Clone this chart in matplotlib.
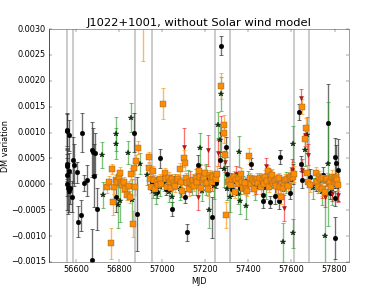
import numpy as np
import matplotlib
matplotlib.use('Agg')
import matplotlib.pyplot as plt

# solar conjunction windows (MJD)
sw_lines = [56557, 56588, 56876, 56953, 57244, 57317, 57610, 57681]

# black circles
k_mjd = [56557, 56561, 56566, 56557, 56561, 56566, 56561, 56558, 56563, 56569, 56572, 56583,
         56588, 56591, 56605, 56612, 56623, 56629, 56637, 56653, 56673, 56680, 56687, 56684,
         56673, 56699, 56784, 56871, 56883, 56989, 57044, 57115, 57106, 57167, 57233, 57267,
         57275, 57295, 57303, 57326, 57414, 57468, 57499, 57524, 57546, 57541, 57608, 57636,
         57651, 57643, 57770, 57801, 57804, 57806, 57814, 57801, 57747, 57778, 57685, 57713,
         57594, 57160, 57210, 57090, 57020, 56975, 56955, 57195, 57250, 57470, 57360, 57560]
k_dm = [0.00103, 0.00105, 0.00095, 0.00040, 0.00036, 0.00025, 0.00018, 0.0, -0.00008, -0.00013,
        -0.00008, -0.00024, 0.00047, 0.00037, 0.00023, -0.00072, -0.00060, 0.00100, 0.00003, 0.00008,
        0.00067, 0.00063, 0.00060, 0.00017, -0.00147, -0.00048, -0.00024, 0.00100, -0.00057, 0.00050,
        -0.00048, -0.00093, -0.00025, 0.00037, -0.00064, 0.00047, 0.00268, 0.00072, 0.00020, -0.00010,
        0.00040, -0.00033, -0.00034, -0.00023, 0.00053, -0.00033, 0.00020, 0.00140, 0.00008, 0.00040,
        0.00118, -0.00104, 0.00053, 0.00041, 0.00027, -0.00027, 0.00018, -0.00016, 0.00015, 0.0,
        -0.00017, 0.00010, 0.00002, -0.00012, -0.00010, -0.00015, 0.00005, 0.00008, 0.00002, -0.00020,
        -0.00008, 0.00000]
k_err = [0.00035, 0.00030, 0.00030, 0.00030, 0.00030, 0.00035, 0.00040, 0.00050, 0.00050, 0.00040,
         0.00030, 0.00030, 0.00045, 0.00040, 0.00020, 0.00030, 0.00030, 0.00037, 0.00015, 0.00030,
         0.00053, 0.00045, 0.00040, 0.00060, 0.00060, 0.00040, 0.00030, 0.00037, 0.00072, 0.00018,
         0.00013, 0.00017, 0.00012, 0.00020, 0.00040, 0.00015, 0.00019, 0.00020, 0.00015, 0.00012,
         0.00010, 0.00012, 0.00012, 0.00015, 0.00014, 0.00015, 0.00020, 0.00015, 0.00015, 0.00015,
         0.00075, 0.00040, 0.00037, 0.00035, 0.00060, 0.00015, 0.00015, 0.00012, 0.00015, 0.00012,
         0.00012, 0.00010, 0.00010, 0.00012, 0.00010, 0.00012, 0.00010, 0.00012, 0.00010, 0.00012,
         0.00010, 0.00012]

# green stars
g_mjd = [56719, 56727, 56787, 56784, 56795, 56804, 56841, 56854, 56862, 56899, 56931, 56973,
         57046, 57174, 57217, 57259, 57275, 57267, 57314, 57357, 57363, 57388, 57561, 57608,
         57608, 57673, 57662, 57755, 57770, 56960, 56990, 57010, 57030, 57060, 57085, 57120,
         57140, 57155, 57185, 57205, 57240, 57285, 57300, 57330, 57350, 57375, 57400, 57430,
         57450, 57480, 57505, 57530, 57575, 57600, 57700, 57725, 57740, 57790, 57810]
g_dm = [0.00057, -0.00020, 0.00098, 0.00078, -0.00040, -0.00033, 0.00061, 0.00129, -0.00030, 0.00040,
        0.00018, -0.00019, -0.00024, 0.00070, -0.00050, 0.00115, 0.00175, 0.00085, -0.00024, 0.00063,
        -0.00033, -0.00042, -0.00112, 0.00078, -0.00095, 0.00095, 0.00066, -0.00100, 0.00040, -0.00012,
        -0.00005, 0.00002, -0.00015, 0.00005, -0.00010, 0.00008, -0.00006, 0.00004, -0.00012, 0.00010,
        -0.00003, 0.00030, -0.00010, 0.00005, -0.00018, 0.00002, 0.00008, -0.00010, 0.00006, -0.00008,
        0.00010, -0.00005, 0.00003, 0.00008, -0.00008, 0.00002, -0.00015, -0.00010, -0.00005]
g_err = [0.00025, 0.00025, 0.00033, 0.00030, 0.00045, 0.00040, 0.00022, 0.00028, 0.00040, 0.00020,
         0.00020, 0.00020, 0.00022, 0.00030, 0.00035, 0.00025, 0.00033, 0.00030, 0.00030, 0.00030,
         0.00025, 0.00025, 0.00038, 0.00035, 0.00028, 0.00035, 0.00030, 0.00078, 0.00120, 0.00015,
         0.00018, 0.00015, 0.00020, 0.00015, 0.00020, 0.00020, 0.00015, 0.00025, 0.00020, 0.00030,
         0.00025, 0.00035, 0.00020, 0.00015, 0.00020, 0.00015, 0.00018, 0.00020, 0.00015, 0.00020,
         0.00018, 0.00020, 0.00020, 0.00025, 0.00020, 0.00018, 0.00025, 0.00030, 0.00025]

# red triangles
r_mjd = [57101, 57167, 57215, 57272, 57259, 57290, 57175, 57345, 57484, 57566, 57646, 57664,
         57679, 57651, 57755, 57818, 57437, 57602, 57130, 57195, 57230, 57320, 57505, 57540,
         57740, 57790]
r_dm = [0.00073, -0.00024, 0.00066, 0.00097, 0.00060, 0.00044, 0.00018, 0.00020, 0.00036, -0.00046,
        0.00166, 0.00095, 0.00057, 0.00028, -0.00024, -0.00020, -0.00004, 0.00028, 0.00005, 0.00012,
        0.00003, 0.00010, 0.00006, -0.00005, -0.00012, -0.00018]
r_err = [0.00035, 0.00025, 0.00030, 0.00035, 0.00025, 0.00020, 0.00020, 0.00015, 0.00015, 0.00025,
         0.00018, 0.00020, 0.00020, 0.00020, 0.00020, 0.00015, 0.00015, 0.00020, 0.00020, 0.00015,
         0.00015, 0.00012, 0.00012, 0.00015, 0.00015, 0.00015]

# orange squares
o_mjd = [56744, 56753, 56761, 56767, 56773, 56779, 56785, 56790, 56798, 56803, 56810, 56815,
         56821, 56830, 56838, 56846, 56852, 56858, 56865, 56868, 56872, 56880, 56888, 56911,
         56937, 56940, 56945, 56950, 56959, 56962, 56968, 56975, 56982, 56990, 56996, 57006,
         57012, 57018, 57024, 57030, 57036, 57042, 57048, 57055, 57061, 57067, 57073, 57083,
         57088, 57094, 57101, 57104, 57110, 57117, 57124, 57130, 57137, 57143, 57150, 57156,
         57162, 57170, 57176, 57182, 57188, 57195, 57200, 57207, 57213, 57220, 57226, 57232,
         57238, 57250, 57256, 57272, 57286, 57288, 57292, 57298, 57305, 57312, 57318, 57325,
         57332, 57338, 57345, 57351, 57358, 57364, 57370, 57377, 57383, 57390, 57396, 57403,
         57408, 57414, 57420, 57427, 57433, 57440, 57447, 57453, 57459, 57466, 57472, 57479,
         57485, 57491, 57497, 57504, 57510, 57516, 57522, 57529, 57535, 57541, 57547, 57553,
         57560, 57566, 57572, 57578, 57585, 57592, 57600, 57605, 57611, 57647, 57661, 57666,
         57670, 57677, 57684, 57713, 57718, 57724, 57730, 57736, 57742, 57748, 57754, 57760,
         57766, 57772, 57778, 57784, 57790, 57796, 57802, 57808, 57813, 57817]
o_dm = [-0.00006, 0.00005, -0.00114, 0.00030, -0.00035, -0.00006, 0.00008, 0.00005, 0.00015, 0.00021,
        0.00002, -0.00002, 0.00005, -0.00010, -0.00020, -0.00003, -0.00024, 0.00020, -0.00076, 0.00032,
        -0.00005, 0.00046, 0.00071, 0.00310, 0.00053, 0.00032, 0.00010, -0.00005, 0.00026, 0.00008,
        -0.00010, 0.00005, -0.00002, 0.00010, 0.00000, 0.00156, 0.00022, 0.00010, -0.00005, 0.00013,
        0.00005, -0.00008, 0.00010, 0.00002, -0.00004, 0.00008, 0.00010, 0.00030, 0.00005, -0.00012,
        0.00050, 0.00041, 0.00012, 0.00002, -0.00010, 0.00005, 0.00000, 0.00008, -0.00003, 0.00012,
        0.00005, 0.00025, 0.00015, -0.00007, 0.00008, 0.00012, 0.00022, 0.00002, -0.00010, 0.00018,
        0.00012, 0.00005, 0.00015, 0.00010, 0.00020, 0.00190, 0.00114, 0.00100, 0.00057, -0.00059,
        0.00005, 0.00008, -0.00002, 0.00010, 0.00015, -0.00015, 0.00008, 0.00000, 0.00012, 0.00020,
        0.00005, -0.00008, 0.00003, -0.00010, -0.00013, 0.00055, 0.00012, 0.00000, 0.00008, -0.00010,
        0.00005, 0.00010, 0.00002, 0.00012, -0.00006, 0.00009, 0.00000, 0.00015, 0.00006, 0.00025,
        -0.00005, 0.00010, 0.00018, 0.00002, 0.00007, -0.00004, 0.00010, 0.00012, -0.00005, -0.00024,
        -0.00008, 0.00003, 0.00008, 0.00010, -0.00003, 0.00012, 0.00017, 0.00015, 0.00020, 0.00150,
        0.00087, 0.00108, 0.00022, 0.00005, -0.00002, 0.00021, 0.00005, -0.00005, 0.00015, 0.00010,
        -0.00010, 0.00012, -0.00015, 0.00008, 0.00010, 0.00000, 0.00005, -0.00005, 0.00015, 0.00010,
        0.00005, 0.00013, 0.00008, -0.00002]
o_err = [0.00010, 0.00012, 0.00030, 0.00010, 0.00025, 0.00012, 0.00010, 0.00010, 0.00010, 0.00012,
         0.00010, 0.00012, 0.00010, 0.00012, 0.00010, 0.00010, 0.00012, 0.00012, 0.00025, 0.00012,
         0.00015, 0.00010, 0.00012, 0.00072, 0.00010, 0.00010, 0.00010, 0.00012, 0.00010, 0.00010,
         0.00010, 0.00010, 0.00012, 0.00010, 0.00010, 0.00030, 0.00010, 0.00010, 0.00012, 0.00010,
         0.00010, 0.00012, 0.00010, 0.00010, 0.00010, 0.00012, 0.00010, 0.00012, 0.00010, 0.00012,
         0.00017, 0.00015, 0.00010, 0.00010, 0.00012, 0.00010, 0.00010, 0.00012, 0.00010, 0.00010,
         0.00012, 0.00015, 0.00010, 0.00010, 0.00012, 0.00010, 0.00015, 0.00010, 0.00012, 0.00010,
         0.00010, 0.00012, 0.00010, 0.00012, 0.00015, 0.00025, 0.00020, 0.00020, 0.00015, 0.00025,
         0.00010, 0.00010, 0.00012, 0.00010, 0.00010, 0.00012, 0.00010, 0.00010, 0.00010, 0.00012,
         0.00010, 0.00010, 0.00012, 0.00010, 0.00010, 0.00015, 0.00010, 0.00012, 0.00010, 0.00010,
         0.00010, 0.00012, 0.00010, 0.00010, 0.00012, 0.00010, 0.00010, 0.00012, 0.00010, 0.00012,
         0.00010, 0.00010, 0.00012, 0.00010, 0.00010, 0.00012, 0.00010, 0.00010, 0.00012, 0.00015,
         0.00010, 0.00010, 0.00012, 0.00010, 0.00010, 0.00012, 0.00010, 0.00012, 0.00015, 0.00015,
         0.00020, 0.00020, 0.00015, 0.00010, 0.00012, 0.00012, 0.00010, 0.00012, 0.00010, 0.00012,
         0.00012, 0.00010, 0.00012, 0.00010, 0.00012, 0.00010, 0.00012, 0.00010, 0.00012, 0.00010,
         0.00012, 0.00010, 0.00012, 0.00010]

plt.style.use('classic')
fig = plt.figure(figsize=(8, 6), dpi=48.5)
ax = fig.add_subplot(111)

for x in sw_lines:
    ax.axvline(x, color='0.8', lw=3, zorder=0)

def plot_set(mjd, dm, err, fmt, mfc, mec, ecol, ms):
    ax.errorbar(mjd, dm, yerr=err, fmt=fmt, mfc=mfc, mec=mec, ms=ms, ecolor=ecol,
                elinewidth=2, capsize=3, capthick=1.5)

plot_set(k_mjd, k_dm, k_err, 'o', 'k', 'k', (0.2, 0.2, 0.2, 0.7), 7)
plot_set(g_mjd, g_dm, g_err, '*', '#0b3d0b', 'k', (0.15, 0.6, 0.15, 0.6), 8)
plot_set(r_mjd, r_dm, r_err, 'v', '#cc1111', '#550000', (0.95, 0.1, 0.1, 0.6), 6)
plot_set(o_mjd, o_dm, o_err, 's', '#ff8c00', '#555555', (1.0, 0.6, 0.1, 0.7), 8)

for sp in ['top', 'right', 'bottom']:
    ax.spines[sp].set_color('0.45')

ax.set_xlim(56473, 57868)
ax.set_ylim(-0.0015, 0.003)
ax.set_xticks([56600, 56800, 57000, 57200, 57400, 57600, 57800])
ax.set_title('J1022+1001, without Solar wind model', fontsize=17)
ax.set_xlabel('MJD')
ax.set_ylabel('DM variation', labelpad=1)

fig.savefig('out.png', dpi=48.5)
